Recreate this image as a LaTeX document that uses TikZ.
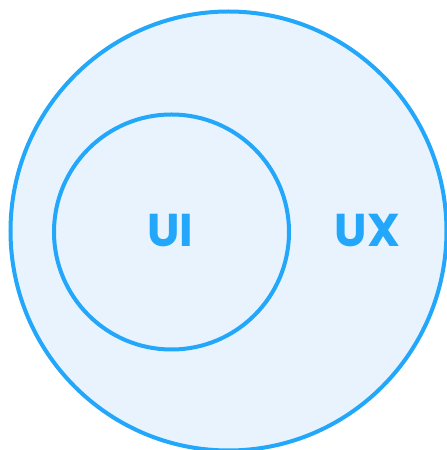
\documentclass[tikz,border=0pt]{standalone}
\usepackage{fontspec}
\setmainfont{Poppins}
\definecolor{ringblue}{HTML}{22A7FA}
\definecolor{paleblue}{HTML}{E9F3FD}
\tikzset{
  ring/.style={draw=ringblue, line width=4pt},
  lbl/.style={text=ringblue, font=\fontsize{46}{46}\selectfont\bfseries, inner sep=0pt, anchor=base}
}
\begin{document}
\begin{tikzpicture}[x=1pt,y=1pt]
  \useasboundingbox (0,0) rectangle (447,450);
  \clip (0,0) rectangle (447,450);
  % outer set: UX
  \draw[ring, fill=paleblue] (228.5,219) ellipse [x radius=218, y radius=219.5];
  % inner set: UI
  \draw[ring] (171.5,218) circle [radius=117.5];
  \node[lbl] (ui) at (170,203.5) {UI};
  \node[lbl] (ux) at (367.5,203.5) {UX};
\end{tikzpicture}
\end{document}
